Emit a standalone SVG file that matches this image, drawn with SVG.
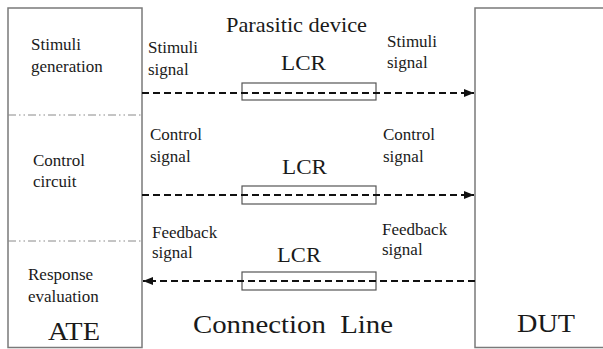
<svg xmlns="http://www.w3.org/2000/svg" width="603" height="349" viewBox="0 0 603 349">
<style>
.box{fill:none;stroke:#7a7a7a;stroke-width:1.5}
.sep{stroke:#8a8a8a;stroke-width:1;stroke-dasharray:8 3 1.5 3 1.5 3}
.lcr{fill:none;stroke:#555;stroke-width:1.2}
.wire{stroke:#111;stroke-width:2;stroke-dasharray:7 4;fill:none}
text{font-family:"Liberation Serif","Times New Roman",serif;fill:#1a1a1a}
</style>
<defs>
<marker id="ah" viewBox="0 0 10 8" refX="10" refY="4" markerWidth="10" markerHeight="8" markerUnits="userSpaceOnUse" orient="auto">
<path d="M0,0 L10,4 L0,8 Z" fill="#111"/>
</marker>
</defs>
<rect width="603" height="349" fill="#fff"/>
<g id="ATE">
<rect class="box" x="8" y="8" width="134" height="339.5"/>
<line class="sep" x1="8" y1="115" x2="142" y2="115"/>
<line class="sep" x1="8" y1="241" x2="142" y2="241"/>
<text font-size="17" font-family="Liberation Serif" x="31" y="50">Stimuli</text>
<text font-size="17" font-family="Liberation Serif" x="31" y="72">generation</text>
<text font-size="17" font-family="Liberation Serif" x="33" y="166">Control</text>
<text font-size="17" font-family="Liberation Serif" x="33" y="187">circuit</text>
<text font-size="17" font-family="Liberation Serif" x="28" y="280">Response</text>
<text font-size="17" font-family="Liberation Serif" x="28" y="302">evaluation</text>
<text font-size="26" font-family="Liberation Serif" x="48" y="340" textLength="52" lengthAdjust="spacingAndGlyphs">ATE</text>
</g>
<g id="DUT">
<path class="box" d="M610,8 H475 V347.5 H610"/>
<text font-size="26" font-family="Liberation Serif" x="517" y="332" textLength="58" lengthAdjust="spacingAndGlyphs">DUT</text>
</g>
<g id="lcr1">
<rect class="lcr" x="242" y="83" width="134" height="17"/>
<text font-size="21" font-family="Liberation Serif" x="281" y="70" textLength="45" lengthAdjust="spacingAndGlyphs">LCR</text>
</g>
<g id="lcr2">
<rect class="lcr" x="242" y="186" width="134" height="18"/>
<text font-size="21" font-family="Liberation Serif" x="282" y="174" textLength="45" lengthAdjust="spacingAndGlyphs">LCR</text>
</g>
<g id="lcr3">
<rect class="lcr" x="242" y="272" width="134" height="18"/>
<text font-size="21" font-family="Liberation Serif" x="277" y="262" textLength="44" lengthAdjust="spacingAndGlyphs">LCR</text>
</g>
<g id="connectors">
<line class="wire" x1="142" y1="93" x2="474" y2="93" marker-end="url(#ah)"/>
<line class="wire" x1="142" y1="195" x2="474" y2="195" marker-end="url(#ah)"/>
<line class="wire" x1="475" y1="281" x2="143" y2="281" marker-end="url(#ah)"/>
</g>
<g id="labels">
<text font-size="21" font-family="Liberation Serif" x="226" y="32" textLength="141" lengthAdjust="spacingAndGlyphs">Parasitic device</text>
<text font-size="17" font-family="Liberation Serif" x="148" y="53">Stimuli</text>
<text font-size="17" font-family="Liberation Serif" x="148" y="75">signal</text>
<text font-size="17" font-family="Liberation Serif" x="387" y="47">Stimuli</text>
<text font-size="17" font-family="Liberation Serif" x="387" y="68">signal</text>
<text font-size="17" font-family="Liberation Serif" x="150" y="140">Control</text>
<text font-size="17" font-family="Liberation Serif" x="150" y="162">signal</text>
<text font-size="17" font-family="Liberation Serif" x="383" y="140">Control</text>
<text font-size="17" font-family="Liberation Serif" x="383" y="162">signal</text>
<text font-size="17" font-family="Liberation Serif" x="152" y="238">Feedback</text>
<text font-size="17" font-family="Liberation Serif" x="152" y="258">signal</text>
<text font-size="17" font-family="Liberation Serif" x="382" y="235">Feedback</text>
<text font-size="17" font-family="Liberation Serif" x="382" y="255">signal</text>
<text font-size="26" font-family="Liberation Serif" x="193" y="333" textLength="200" lengthAdjust="spacingAndGlyphs" xml:space="preserve">Connection  Line</text>
</g>
</svg>
